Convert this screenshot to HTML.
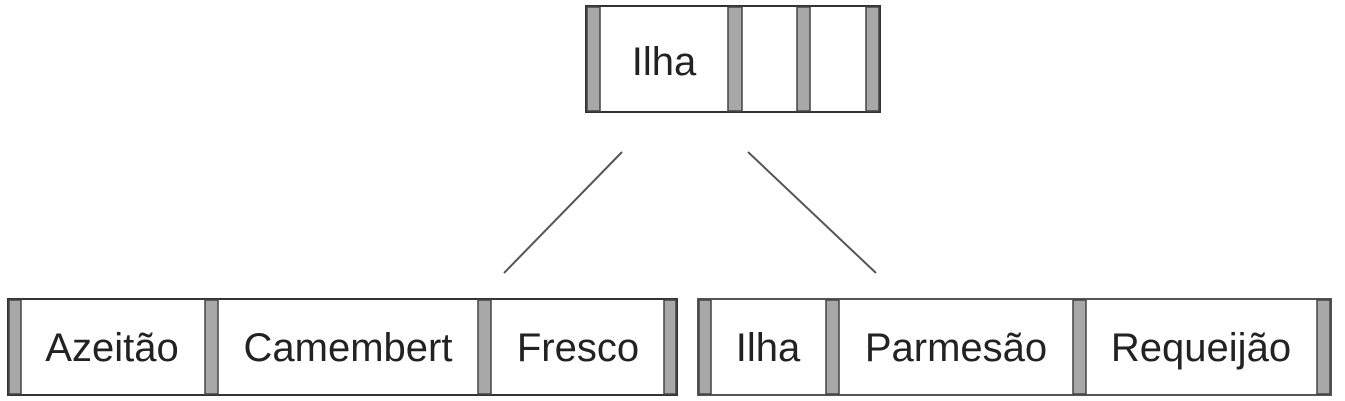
<!DOCTYPE html>
<html><head><style>html,body{margin:0;padding:0;background:#fff;}svg{display:block}</style></head>
<body>
<svg width="1345" height="401" xmlns="http://www.w3.org/2000/svg" font-family="Liberation Sans, Arial, sans-serif" font-size="40" fill="#222">
<g stroke="#333" stroke-width="2">
<rect x="586" y="6" width="294" height="106" fill="#fff"/>
<rect x="8" y="299" width="669" height="96" fill="#fff"/>
<rect x="698" y="299" width="633" height="96" fill="#fff" stroke="#555"/>
</g>
<g fill="#a8a8a8" stroke="#444" stroke-width="1.5">
<rect x="587" y="7" width="13" height="104"/>
<rect x="728" y="7" width="14" height="104"/>
<rect x="797" y="7" width="13" height="104"/>
<rect x="866" y="7" width="13" height="104"/>
<rect x="9" y="300" width="12" height="94"/>
<rect x="205" y="300" width="13" height="94"/>
<rect x="478" y="300" width="13" height="94"/>
<rect x="664" y="300" width="12" height="94"/>
<rect x="699" y="300" width="12" height="94"/>
<rect x="826" y="300" width="13" height="94"/>
<rect x="1073" y="300" width="13" height="94"/>
<rect x="1317" y="300" width="13" height="94"/>
</g>
<g stroke="#555" stroke-width="2">
<line x1="622" y1="152" x2="504" y2="273"/>
<line x1="748" y1="152" x2="876" y2="273"/>
</g>
<g text-anchor="middle">
<text x="664" y="75">Ilha</text>
<text x="112" y="361">Azeitão</text>
<text x="348" y="361">Camembert</text>
<text x="578" y="361">Fresco</text>
<text x="768" y="361">Ilha</text>
<text x="956" y="361">Parmesão</text>
<text x="1201" y="361">Requeijão</text>
</g>
</svg>
</body></html>
